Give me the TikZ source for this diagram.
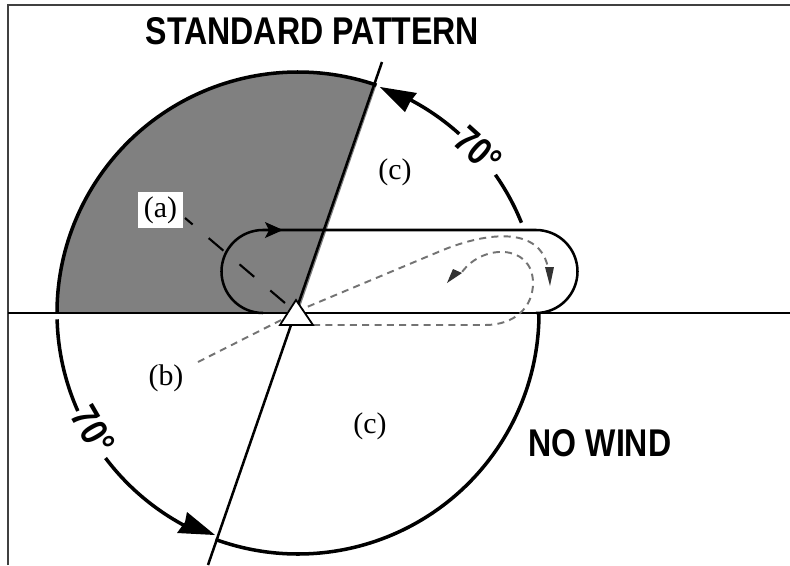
\documentclass[tikz,border=0pt]{standalone}
\usepackage{fontspec}
\setmainfont{Liberation Serif}
\newfontfamily\headfont[FakeStretch=0.83]{Liberation Sans}
\usetikzlibrary{arrows.meta,positioning,calc}

\begin{document}
\begin{tikzpicture}[
  font=\fontsize{8.5}{10}\selectfont,
  title/.style={font=\headfont\bfseries\fontsize{11}{13}\selectfont, inner sep=0pt},
  angle/.style={font=\headfont\bfseries\fontsize{11}{13}\selectfont, inner sep=0pt},
  rim/.style={line width=1pt},
  track/.style={line width=0.72pt},
  wire/.style={line width=0.8pt},
  probe/.style={line width=0.55pt, dash pattern=on 2pt off 1.5pt, draw=black!55},
  lead/.style={line width=0.6pt, dash pattern=on 5.5pt off 6pt}
]
\useasboundingbox (0,0) rectangle (7.9,5.65);
\fill[white] (0,0) rectangle (7.9,5.65);

% Frame
\draw[line width=0.35pt, black!75] (0.08,0) -- (0.08,5.6) -- (7.9,5.6);

% Shaded sector
\coordinate (hub) at (2.98,2.52);
\fill[black!50] (hub) -- ++(180:2.41) arc (180:71:2.41) -- cycle;

% Main axes
\coordinate (axisl) at (0.08,2.52);
\coordinate (axisr) at (7.9,2.52);
\coordinate (axist) at (3.82,5.03);
\coordinate (axisb) at (2.08,0);
\draw[wire] (axisl) -- (axisr);
\draw[track] (axisb) -- (axist);

% Rim arcs
\draw[rim] (hub) ++(180:2.41) arc (180:71:2.41);
\draw[rim] (hub) ++(48:2.41) arc (48:66:2.41);
\draw[rim] (hub) ++(22:2.41) arc (22:35:2.41);
\draw[rim] (hub) ++(181.5:2.41) arc (181.5:204:2.41);
\draw[rim] (hub) ++(217:2.41) arc (217:245:2.41);
\draw[rim] (hub) ++(0:2.41) arc (360:250:2.41);

% Arrowheads on the rim
\fill (3.80,4.78) -- (4.17,4.72) -- (4.10,4.63) -- (4.05,4.53) -- cycle;
\fill (2.15,0.30) -- (1.77,0.32) -- (1.85,0.43) -- (1.87,0.53) -- cycle;

% Racetrack
\draw[track] (2.63,2.52) arc (270:90:0.415) -- (5.36,3.35) arc (90:-90:0.415);
\fill (2.83,3.35) -- (2.65,3.43) -- (2.69,3.35) -- (2.65,3.27) -- cycle;

% Dotted paths
\coordinate (bstart) at (1.98,2.03);
\draw[probe] (bstart) -- (3.07,2.58) -- (4.43,3.15)
  .. controls (4.85,3.32) and (5.45,3.42) .. (5.49,2.90);
\draw[probe] (3.13,2.40) -- (4.85,2.40)
  .. controls (5.15,2.40) and (5.33,2.58) .. (5.33,2.82)
  .. controls (5.33,3.22) and (4.80,3.22) .. (4.60,2.90);
\fill[black!80] (5.50,2.79) -- (5.45,2.98) -- (5.54,2.98) -- cycle;
\fill[black!80] (4.47,2.82) -- (4.62,2.92) -- (4.53,2.96) -- cycle;

% Dashed leader
\coordinate (leadend) at (1.85,3.47);
\draw[lead] (2.85,2.62) -- (leadend);

% Station marker
\draw[fill=white, line width=0.5pt] (2.96,2.65) -- (3.13,2.40) -- (2.80,2.40) -- cycle;

% Labels
\node[title] (head) at (3.125,5.34) {STANDARD PATTERN};
\node[title] (nowind) at (6.00,1.22) {NO WIND};
\node[angle, rotate=-42] (upper) at (4.78,4.15) {70°};
\node[angle, rotate=-60] (lower) at (0.93,1.35) {70°};
\node (c1) at (3.95,3.93) {(c)};
\node (c2) at (3.70,1.39) {(c)};
\node[fill=white, inner sep=0pt, minimum width=0.45cm, minimum height=0.36cm] (a) at (1.605,3.55) {(a)};
\node (b) at (1.66,1.87) {(b)};
\end{tikzpicture}
\end{document}
